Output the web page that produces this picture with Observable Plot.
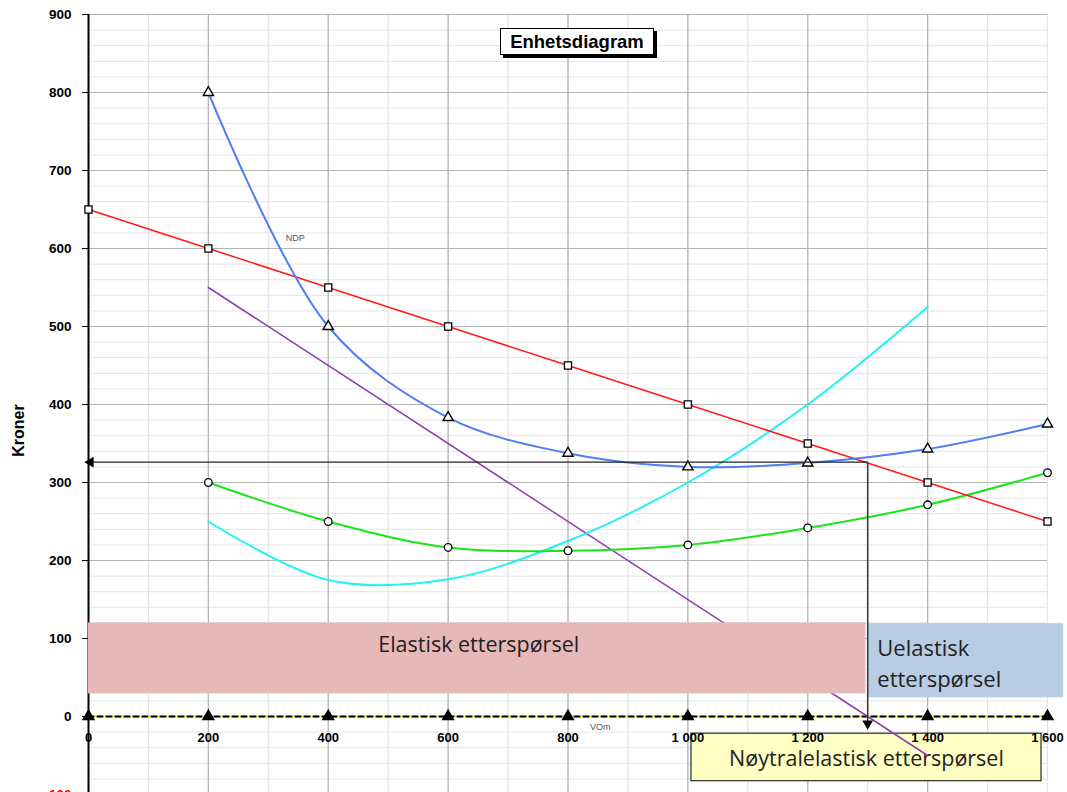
<!DOCTYPE html>
<html>
<head>
<meta charset="utf-8">
<script src="https://cdn.jsdelivr.net/npm/d3@7"></script>
<script src="https://cdn.jsdelivr.net/npm/@observablehq/plot@0.6"></script>
<style>
  html, body { margin: 0; padding: 0; overflow: hidden; background: #fff; }
  #wrap { position: relative; width: 1067px; height: 792px; font-family: "Liberation Sans", Arial, sans-serif; }
  #title { position: absolute; left: 500px; top: 28px; width: 152px; height: 25px; border: 1px solid #000;
           box-shadow: 3px 3px 0 #000; background: #fff; font: bold 18.5px "Liberation Sans", Arial, sans-serif;
           text-align: center; line-height: 25px; }
</style>
</head>
<body>
<div id="wrap"><div id="chart"></div><div id="title">Enhetsdiagram</div></div>
<script>
// ---- data ----
const qTicks = [0, 200, 400, 600, 800, 1000, 1200, 1400, 1600];
const demandPrice = [650, 600, 550, 500, 450, 400, 350, 300, 250];          // red, squares
const costQ = [200, 400, 600, 800, 1000, 1200, 1400, 1600];
const avgCost = [800, 500, 383.3, 337.5, 320, 325, 342.9, 375];             // blue, triangles
const avgVarCost = [300, 250, 216.7, 212.5, 220, 241.7, 271.4, 312.5];      // green, circles
const mcQ = [200, 400, 600, 800, 1000, 1200, 1400];
const marginalCost = [250, 175, 176, 225, 300, 400, 525];                  // cyan
const mrQ = [200, 1400];
const marginalRevenue = [550, -50];                                         // purple
const zeroValues = [0, 0, 0, 0, 0, 0, 0, 0, 0];
const optimumQ = 1300;
const optimumP = 326;
const yMajorTicks = [0, 100, 200, 300, 400, 500, 600, 700, 800, 900];
const yNegTicks = [-100];
const regionNames = ["Elastisk etterspørsel", "Uelastisk\netterspørsel", "Nøytralelastisk etterspørsel"];
const regionQ1 = [0, 1300, 1006];
const regionQ2 = [1297, 1627, 1590];
const regionP1 = [29, 24, -83];
const regionP2 = [120, 119, -22];
const regionTextQ = [651, 1316, 1298];
const regionTextP = [92, 70, -54];
const smallLabels = ["NDP", "VOm"];
const smallLabelQ = [345, 854];
const smallLabelP = [613, -14];

// ---- derived tables ----
const demand = qTicks.map((q, i) => ({q, p: demandPrice[i]}));
const ac = costQ.map((q, i) => ({q, p: avgCost[i]}));
const avc = costQ.map((q, i) => ({q, p: avgVarCost[i]}));
const mc = mcQ.map((q, i) => ({q, p: marginalCost[i]}));
const mr = mrQ.map((q, i) => ({q, p: marginalRevenue[i]}));
const zero = qTicks.map((q, i) => ({q, p: zeroValues[i]}));
const regions = regionNames.map((name, i) => ({name, q1: regionQ1[i], q2: regionQ2[i], p1: regionP1[i], p2: regionP2[i], tq: regionTextQ[i], tp: regionTextP[i]}));
const minorY = d3.range(-100, 901, 20);
const minorX = d3.range(0, 1601, 100);
const small = smallLabels.map((t, i) => ({t, q: smallLabelQ[i], p: smallLabelP[i]}));
const fmtQ = d => d >= 1000 ? String(Math.floor(d / 1000)) + " " + String(d % 1000).padStart(3, "0") : String(d);

const font = "Liberation Sans, Arial, sans-serif";
const boxFont = "Open Sans, Noto Sans, sans-serif";

const chart = Plot.plot({
  width: 1067,
  height: 830,
  marginTop: 14,
  marginBottom: 36,
  marginLeft: 88,
  marginRight: 20,
  style: {fontFamily: font, overflow: "visible"},
  x: {domain: [0, 1600], axis: null},
  y: {domain: [-100, 900], axis: null},
  marks: [
    // grid
    Plot.ruleY(minorY, {x1: 0, x2: 1600, stroke: "#e3e3e3", strokeWidth: 1}),
    Plot.ruleX(minorX, {y1: -100, y2: 900, stroke: "#e3e3e3", strokeWidth: 1.2}),
    Plot.ruleY(yMajorTicks.concat(yNegTicks), {x1: 0, x2: 1600, stroke: "#b4b4b4", strokeWidth: 1}),
    Plot.ruleX(qTicks.filter(d => d > 0 && d < 1600), {y1: -100, y2: 900, stroke: "#b4b4b4", strokeWidth: 1.2}),
    // y axis
    Plot.ruleX([0], {y1: -100, y2: 900, stroke: "#000", strokeWidth: 2}),
    Plot.axisY({ticks: yMajorTicks, tickSize: 6, tickPadding: 11, fontSize: 13.5, fontWeight: "bold", stroke: "#000", fill: "#000"}),
    Plot.axisY({ticks: yNegTicks, tickSize: 6, tickPadding: 11, fontSize: 13.5, fontWeight: "bold", fill: "#ff0000"}),
    Plot.text(["Kroner"], {frameAnchor: "left", y: 333, dx: -70, rotate: -90, fontSize: 16, fontWeight: "bold", fill: "#000"}),
    // yellow neutral box (behind purple)
    Plot.rect([regions[2]], {x1: "q1", x2: "q2", y1: "p1", y2: "p2", fill: "#ffffc4", stroke: "#000", strokeWidth: 1}),
    Plot.text([regions[2]], {x: "tq", y: "tp", text: "name", fontSize: 21.5, fontFamily: boxFont, fill: "#222"}),
    // zero line
    Plot.line(zero, {x: "q", y: "p", stroke: "#ffff00", strokeWidth: 3}),
    Plot.line(zero, {x: "q", y: "p", stroke: "#000", strokeWidth: 2, strokeDasharray: "5,4"}),
    Plot.dot(zero, {x: "q", y: "p", symbol: "triangle", r: 4, fill: "#000", stroke: "#000"}),
    // x tick labels
    Plot.text(qTicks, {x: d => d, y: 0, dy: 21, text: fmtQ, fontSize: 13, fontWeight: "bold", fill: "#000"}),
    // curves
    Plot.line(mr, {x: "q", y: "p", stroke: "#8e3fb0", strokeWidth: 1.5}),
    Plot.line(mc, {x: "q", y: "p", stroke: "#22f2f5", strokeWidth: 2, curve: "catmull-rom"}),
    Plot.line(avc, {x: "q", y: "p", stroke: "#19e619", strokeWidth: 2, curve: "catmull-rom"}),
    Plot.line(demand, {x: "q", y: "p", stroke: "#ff1a1a", strokeWidth: 1.5}),
    Plot.line(ac, {x: "q", y: "p", stroke: "#4f7ff2", strokeWidth: 2, curve: "catmull-rom"}),
    Plot.dot(demand, {x: "q", y: "p", symbol: "square", r: 4, fill: "#fff", stroke: "#000", strokeWidth: 1.3}),
    Plot.dot(ac, {x: "q", y: "p", symbol: "triangle", r: 3.8, fill: "#fff", stroke: "#000", strokeWidth: 1.4}),
    Plot.dot(avc, {x: "q", y: "p", symbol: "circle", r: 3.8, fill: "#fff", stroke: "#000", strokeWidth: 1.3}),
    // elastic / inelastic boxes (in front of curves)
    Plot.rect(regions.slice(0, 2), {x1: "q1", x2: "q2", y1: "p1", y2: "p2", fill: (d, i) => i === 0 ? "#e6b8b7" : "#b8cce4"}),
    Plot.text([regions[0]], {x: "tq", y: "tp", text: "name", fontSize: 21.5, fontFamily: boxFont, fill: "#222"}),
    Plot.text([regions[1]], {x: "tq", y: "tp", text: "name", textAnchor: "start", lineHeight: 1.4, fontSize: 22, fontFamily: boxFont, fill: "#222"}),
    // optimum arrows
    Plot.link([{q: optimumQ, p: optimumP}], {x1: "q", y1: "p", x2: 0, y2: "p", stroke: "#222", strokeWidth: 1.3}),
    Plot.link([{q: optimumQ, p: optimumP}], {x1: "q", y1: "p", x2: "q", y2: -10, stroke: "#333", strokeWidth: 1.5}),
    Plot.dot([{q: optimumQ, p: optimumP}], {x: "q", y: -9, symbol: "triangle", rotate: 180, r: 4, fill: "#000"}),
    Plot.dot([{q: optimumQ, p: optimumP}], {x: 0, y: "p", dx: 2, symbol: "triangle", rotate: -90, r: 4, fill: "#000"}),
    // small labels
    Plot.text(small, {x: "q", y: "p", text: "t", fontSize: 9, fill: "#555"})
  ]
});
document.getElementById("chart").appendChild(chart);
</script>
</body>
</html>
